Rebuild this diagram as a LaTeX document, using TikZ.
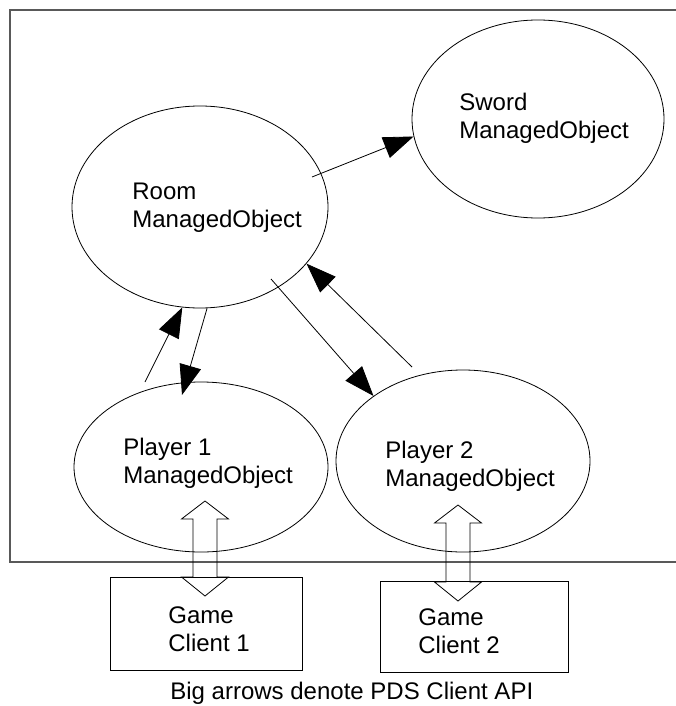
\documentclass[tikz,border=0pt]{standalone}
\usepackage{fontspec}
\setmainfont{Liberation Sans}
\usetikzlibrary{arrows.meta,calc,shapes.geometric}

\newcommand\pdsarrow[2]{%
  \draw (#1) -- ++(23.5,18) -- ++(-11.5,0) -- ($(#2)+(12,-19)$) -- ++(11.5,0) -- (#2)
    -- ++(-23.5,-19) -- ++(11.5,0) -- ($(#1)+(-12,18)$) -- ++(-11.5,0) -- cycle;}

\begin{document}
\begin{tikzpicture}[x=1pt, y=-1pt, line width=0.8pt,
    obj/.style={draw, ellipse, inner sep=0pt},
    client/.style={draw, rectangle, inner sep=0pt},
    lbl/.style={anchor=base west, inner sep=0pt, align=left, font=\fontsize{24}{28}\selectfont},
    link/.style={-{Triangle[length=30pt, width=22pt]}},
    frame/.style={draw=black!65, line width=1.3pt}]
        \useasboundingbox (0,0) rectangle (676,706);
        \draw[frame] (690,10) -- (10,10) -- (10,562) -- (690,562);

        \node[obj, minimum width=252, minimum height=198] (sword) at (538,119) {};
        \node[obj, minimum width=256, minimum height=202] (room) at (200,207) {};
        \node[obj, minimum width=254, minimum height=170] (player1) at (201,467) {};
        \node[obj, minimum width=254, minimum height=182] (player2) at (463,461) {};
        \node[client, minimum width=192, minimum height=93] (client1) at (206,623.5) {};
        \node[client, minimum width=188, minimum height=91] (client2) at (474,626.5) {};

        % base west of a two-line label is the last line
        \node[lbl] (swordtxt) at (459,138) {Sword\\ManagedObject};
        \node[lbl] (roomtxt) at (132,227) {Room\\ManagedObject};
        \node[lbl] (player1txt) at (123,483) {Player 1\\ManagedObject};
        \node[lbl] (player2txt) at (385,486) {Player 2\\ManagedObject};
        \node[lbl] (client1txt) at (168,651) {Game\\Client 1};
        \node[lbl] (client2txt) at (418,653) {Game\\Client 2};
        \node[lbl] (caption) at (170,699) {Big arrows denote PDS Client API};

        \coordinate (a1) at (312,177);
        \coordinate (a2) at (145,382);
        \coordinate (a3) at (182,395);
        \coordinate (a4) at (271,279);
        \coordinate (a5) at (412,367);
        \draw[link] (a1) -- (sword.188);
        \draw[link] (a2) -- (room.260);
        \draw[link] (room.274) -- (a3);
        \draw[link] (a4) -- (player2.144);
        \draw[link] (a5) -- (room.-28);

        \coordinate (p1a) at (205,501);
        \coordinate (c1a) at (205,596);
        \coordinate (p2a) at (458,505);
        \coordinate (c2a) at (458,601);
        \pdsarrow{p1a}{c1a}
        \pdsarrow{p2a}{c2a}
    \end{tikzpicture}
\end{document}
